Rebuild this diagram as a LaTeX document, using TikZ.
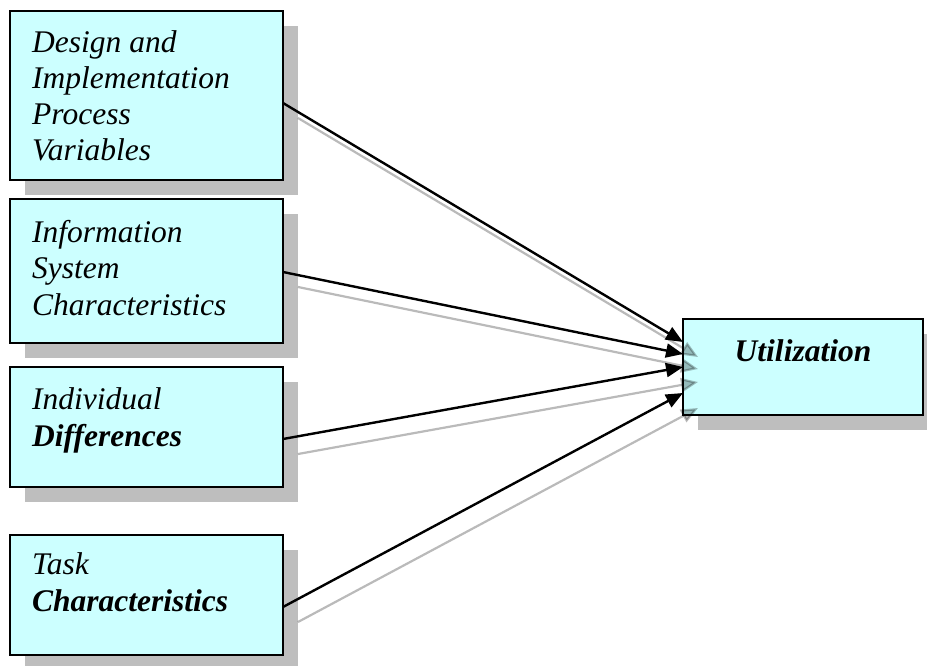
\documentclass[tikz,border=0pt]{standalone}
\usepackage{fontspec}
\setmainfont{Liberation Serif}
\usetikzlibrary{arrows.meta,shadows}
\definecolor{boxfill}{RGB}{204,255,255}
\definecolor{shadowgray}{RGB}{190,190,190}
\tikzset{
  box/.style={draw=black, line width=1.4pt, fill=boxfill, rectangle,
    inner sep=0pt, outer sep=0pt, anchor=north west,
    drop shadow={shadow xshift=15pt, shadow yshift=-15pt, fill=shadowgray, opacity=1}},
  lbl/.style={anchor=base west, inner sep=0pt, align=left,
    font=\fontsize{31.5}{36.2}\selectfont\itshape},
  link/.style={draw=black, line width=2.4pt, -{Triangle[length=17pt,width=14pt]}},
  linkshade/.style={draw=black, line width=2.2pt, opacity=0.27,
    -{Triangle[length=17pt,width=14pt]},
    transform canvas={xshift=15pt, yshift=-15pt}}
}
\begin{document}
\begin{tikzpicture}[x=1pt, y=-1pt]
\useasboundingbox (0,0) rectangle (927,666);

% left column of factor boxes
\node[box, minimum width=273pt, minimum height=169pt] (b1) at (10,11) {};
\node[box, minimum width=273pt, minimum height=144pt] (b2) at (10,199) {};
\node[box, minimum width=273pt, minimum height=120pt] (b3) at (10,367) {};
\node[box, minimum width=273pt, minimum height=120pt] (b4) at (10,535) {};
% outcome box
\node[box, minimum width=240pt, minimum height=96pt] (u) at (683,319) {};

% box labels (placed by the baseline of their last line)
\node[lbl] (t1) at (32,161) {Design and\\Implementation\\Process\\Variables};
\node[lbl] (t2) at (32,315) {Information\\System\\Characteristics};
\node[lbl] (t3) at (32,446) {Individual\\\textbf{Differences}};
\node[lbl] (t4) at (32,611) {Task\\\textbf{Characteristics}};
\node[anchor=base, inner sep=0pt, font=\fontsize{31.5}{36.2}\selectfont\bfseries\itshape]
  (tu) at (803,361) {Utilization};

% shadow arrows
\draw[linkshade] ([yshift=-7.5pt]b1.east) -- ([yshift=25pt]u.west);
\draw[linkshade] ([yshift=-1pt]b2.east) -- ([yshift=13pt]u.west);
\draw[linkshade] ([yshift=-12pt]b3.east) -- (u.west);
\draw[linkshade] ([yshift=-12pt]b4.east) -- ([yshift=-26pt]u.west);

% arrows
\draw[link] ([yshift=-7.5pt]b1.east) -- ([yshift=25pt]u.west);
\draw[link] ([yshift=-1pt]b2.east) -- ([yshift=13pt]u.west);
\draw[link] ([yshift=-12pt]b3.east) -- (u.west);
\draw[link] ([yshift=-12pt]b4.east) -- ([yshift=-26pt]u.west);
\end{tikzpicture}
\end{document}
